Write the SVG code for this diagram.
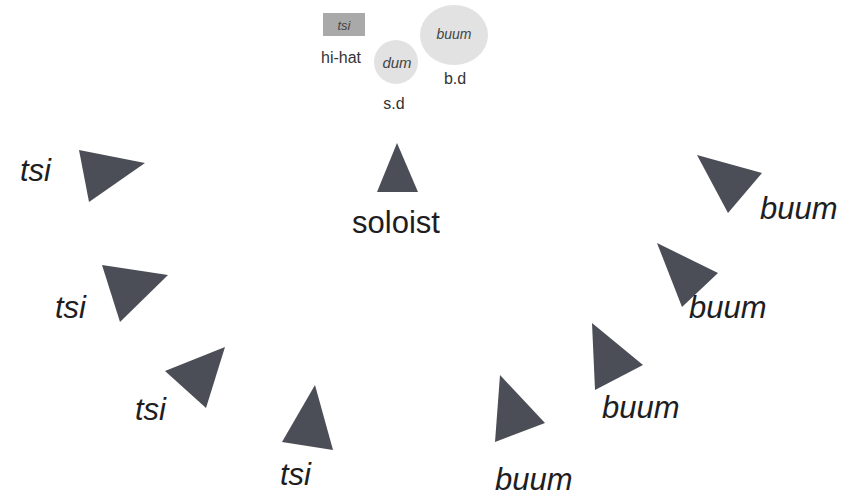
<svg xmlns="http://www.w3.org/2000/svg" width="843" height="497" viewBox="0 0 843 497">
<style>
.tri{fill:#4b4e56}
.big{font-family:"Liberation Sans",Arial,sans-serif;font-size:31px;fill:#1e1e22}
.it{font-style:italic}
.sm{font-family:"Liberation Sans",Arial,sans-serif;font-size:16px;fill:#333}
.in{font-family:"Liberation Sans",Arial,sans-serif;font-style:italic;fill:#444}
</style>
<rect width="843" height="497" fill="#fff"/>
<g id="hihat">
<rect x="323" y="13" width="42" height="23" fill="#a9a9a9"/>
<text class="in" x="344" y="30" font-size="13" text-anchor="middle">tsi</text>
<text class="sm" x="341" y="63" text-anchor="middle">hi-hat</text>
</g>
<g id="bassdrum">
<ellipse cx="454" cy="35" rx="34" ry="30" fill="#e2e2e2"/>
<text class="in" x="454" y="39" font-size="14" text-anchor="middle">buum</text>
<text class="sm" x="455" y="84" text-anchor="middle">b.d</text>
</g>
<g id="snare">
<circle cx="396" cy="62" r="22" fill="#e2e2e2"/>
<text class="in" x="397" y="68" font-size="15" text-anchor="middle">dum</text>
<text class="sm" x="394" y="109" text-anchor="middle">s.d</text>
</g>
<g id="soloist">
<polygon class="tri" points="397,143 377,192 418,192"/>
<text class="big" x="396" y="233" text-anchor="middle">soloist</text>
</g>
<g id="tsi1">
<polygon class="tri" points="79,150 145,163 89,202"/>
<text class="big it" x="20" y="181">tsi</text>
</g>
<g id="tsi2">
<polygon class="tri" points="102,265 168,275 120,322"/>
<text class="big it" x="55" y="318">tsi</text>
</g>
<g id="tsi3">
<polygon class="tri" points="225,347 165,371 206,408"/>
<text class="big it" x="135" y="420">tsi</text>
</g>
<g id="tsi4">
<polygon class="tri" points="315,385 282,442 333,450"/>
<text class="big it" x="280" y="485">tsi</text>
</g>
<g id="buum1">
<polygon class="tri" points="500,375 545,423 495,442"/>
<text class="big it" x="495" y="490">buum</text>
</g>
<g id="buum2">
<polygon class="tri" points="592,323 643,365 595,390"/>
<text class="big it" x="602" y="418">buum</text>
</g>
<g id="buum3">
<polygon class="tri" points="657,243 718,273 682,307"/>
<text class="big it" x="689" y="318">buum</text>
</g>
<g id="buum4">
<polygon class="tri" points="697,155 762,173 728,213"/>
<text class="big it" x="760" y="219">buum</text>
</g>
<g id="connectors"/>
</svg>
